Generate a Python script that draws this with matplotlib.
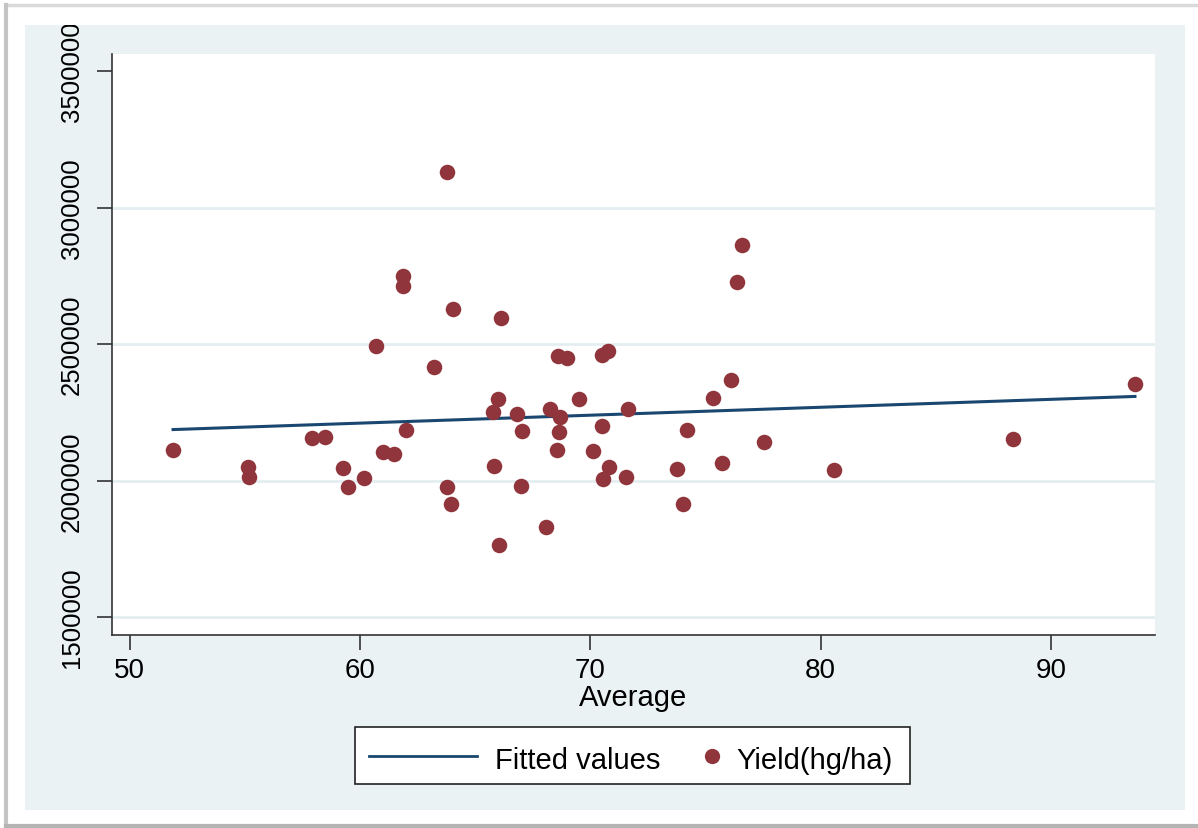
import numpy as np
import matplotlib.pyplot as plt
from matplotlib.patches import Rectangle
from matplotlib.lines import Line2D

# Average vs yield, one point per observation
average = [51.89, 55.14, 55.19, 57.91, 58.49, 59.28, 59.50, 60.18, 60.70, 61.02,
           61.48, 61.88, 61.88, 61.99, 63.23, 63.79, 63.79, 63.94, 64.05, 65.76,
           65.82, 66.01, 66.02, 66.12, 66.83, 66.98, 67.05, 68.08, 68.25, 68.54,
           68.68, 68.64, 68.61, 68.98, 69.51, 70.13, 70.49, 70.49, 70.56, 70.78,
           70.81, 71.54, 71.65, 73.75, 74.04, 74.21, 75.31, 75.70, 76.11, 76.35,
           76.60, 77.54, 80.59, 88.36, 93.64]
yield_hg_ha = [2112000, 2049000, 2013000, 2154600, 2160400, 2045800, 1975100, 2008000, 2491600, 2105500,
               2097100, 2748000, 2711300, 2186100, 2414700, 3131100, 1975100, 1913900, 2628200, 2249800,
               2054200, 2298500, 1763700, 2595200, 2243600, 1981000, 2182400, 1828600, 2261900, 2112800,
               2231500, 2176600, 2457100, 2447600, 2298500, 2107000, 2459700, 2200700, 2005500, 2473300,
               2048400, 2013900, 2261900, 2042100, 1913900, 2185000, 2301100, 2063000, 2369200, 2726000,
               2862600, 2139900, 2037400, 2152000, 2353500]

x_ticks = [50, 60, 70, 80, 90]
y_ticks = [1500000, 2000000, 2500000, 3000000, 3500000]
grid_levels = [1500000, 2000000, 2500000, 3000000]

BG = "#EAF2F3"
MAROON = "#90353B"
NAVY = "#1A476F"
AXIS = "#333333"

W, H = 1198, 829


def fx(px):
  return px / W


def fy(py):
  return 1 - py / H


fig = plt.figure(figsize=(W / 100, H / 100), dpi=100)
fig.patch.set_facecolor("white")
plt.rcParams["font.family"] = ["Liberation Sans", "DejaVu Sans"]

# soft frame edges around the picture
fig.add_artist(Line2D([fx(6), 1], [fy(6), fy(6)], color="#dadada", lw=2.5, transform=fig.transFigure))
fig.add_artist(Line2D([fx(6), fx(6)], [fy(6), fy(827)], color="#c4c4c4", lw=3, transform=fig.transFigure))
fig.add_artist(Line2D([fx(6), 1], [fy(826.5), fy(826.5)], color="#b4b4b4", lw=3, transform=fig.transFigure))

# graph region background
panel = Rectangle((fx(25), fy(811)), fx(1185) - fx(25), fy(26) - fy(811),
                  transform=fig.transFigure, facecolor=BG, edgecolor="none", zorder=0)
fig.add_artist(panel)

ax = fig.add_axes([fx(112), fy(636), fx(1155) - fx(112), fy(55) - fy(636)])
ax.set_zorder(1)
ax.set_facecolor("white")

for lvl in grid_levels:
  ax.axhline(lvl, color="#E4EEF0", lw=2, zorder=1)

ax.scatter(average, yield_hg_ha, s=125, color=MAROON, linewidths=0, zorder=3)

slope, intercept = np.polyfit(average, yield_hg_ha, 1)
fit_x = np.array([min(average), max(average)])
ax.plot(fit_x, intercept + slope * fit_x, color=NAVY, lw=2.2, zorder=2)

ax.set_xlim(49.24, 94.51)
ax.set_ylim(1434100, 3562300)

ax.spines["top"].set_visible(False)
ax.spines["right"].set_visible(False)
ax.spines["left"].set_color(AXIS)
ax.spines["bottom"].set_color(AXIS)
ax.spines["left"].set_linewidth(1.2)
ax.spines["bottom"].set_linewidth(1.2)
ax.tick_params(direction="out", length=11, width=1.2, color=AXIS)

ax.set_xticks(x_ticks)
ax.set_xticklabels([str(v) for v in x_ticks], fontsize=20)
ax.tick_params(axis="x", pad=5)

ax.set_yticks(y_ticks)
ax.set_yticklabels([str(v) for v in y_ticks], rotation=90, va="center", fontsize=18.5)
ax.tick_params(axis="y", pad=9)
for label in ax.get_yticklabels():
  label.set_clip_path(panel)

ax.set_xlabel("Average", fontsize=21, labelpad=0)

# legend box below the graph
fig.add_artist(Rectangle((fx(354.5), fy(785)), fx(909.5) - fx(354.5), fy(727.6) - fy(785),
                         transform=fig.transFigure, facecolor="white", edgecolor="#222222", lw=1.2))
fig.add_artist(Line2D([fx(369), fx(477)], [fy(757), fy(757)], color=NAVY, lw=2, transform=fig.transFigure))
fig.text(fx(495), fy(769), "Fitted values", fontsize=21, va="baseline", ha="left")
fig.add_artist(Line2D([fx(712)], [fy(757)], marker="o", ms=11, color=MAROON, mew=0,
                      transform=fig.transFigure))
fig.text(fx(736), fy(769), "Yield(hg/ha)", fontsize=21, va="baseline", ha="left")

fig.savefig("out.png", dpi=100)
